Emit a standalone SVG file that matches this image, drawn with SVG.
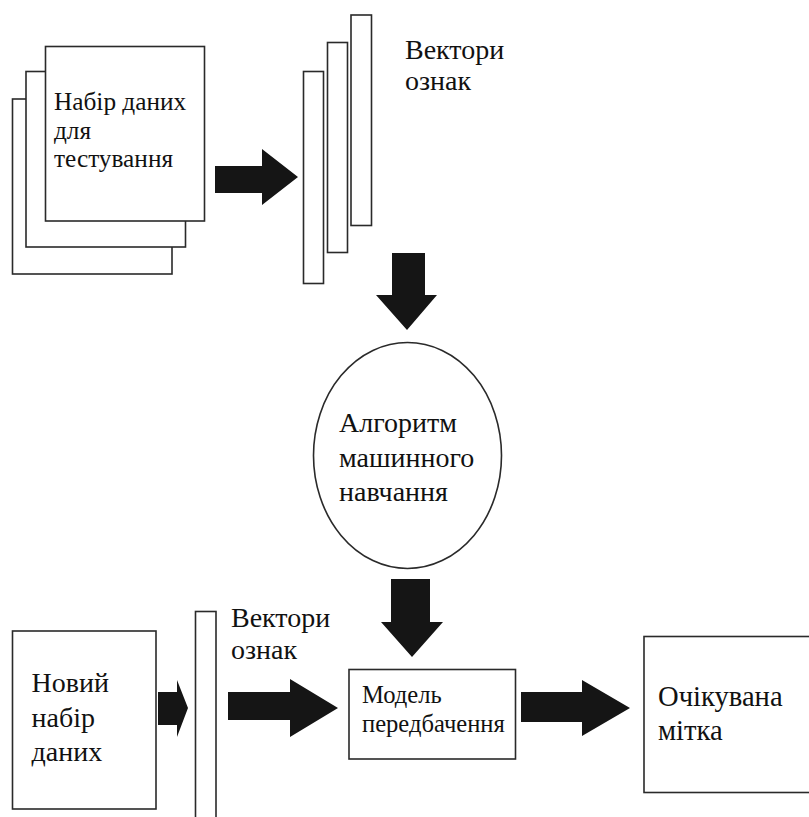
<svg xmlns="http://www.w3.org/2000/svg" width="809" height="817" viewBox="0 0 809 817">
<style>
.box{fill:#fff;stroke:#2a2a2a;stroke-width:1.6}
text{font-family:'Liberation Serif','Times New Roman','DejaVu Serif',serif;fill:#111}
.arr{fill:#151515}
</style>
<rect width="809" height="817" fill="#fff"/>
<g id="test-dataset">
<rect class="box" x="12.5" y="99" width="159.5" height="175"/>
<rect class="box" x="26" y="71.5" width="159.5" height="175.5"/>
<rect class="box" x="45.5" y="46.5" width="159" height="174.5"/>
<text font-size="25.3"><tspan x="54" y="110">Набір даних</tspan><tspan x="54" y="139">для</tspan><tspan x="54" y="167">тестування</tspan></text>
</g>
<g id="feature-vectors-1">
<rect class="box" x="303.5" y="71.5" width="20" height="212"/>
<rect class="box" x="327.5" y="42.5" width="20" height="210"/>
<rect class="box" x="351" y="15" width="20.5" height="210.5"/>
<text font-size="28"><tspan x="405" y="58.5">Вектори</tspan><tspan x="405" y="90">ознак</tspan></text>
</g>
<g id="ml-algorithm">
<ellipse class="box" cx="407.5" cy="455.5" rx="94" ry="113"/>
<text font-size="28"><tspan x="339" y="432">Алгоритм</tspan><tspan x="339" y="466.5">машинного</tspan><tspan x="339" y="500.5">навчання</tspan></text>
</g>
<g id="new-dataset">
<rect class="box" x="12.5" y="631" width="143.5" height="178"/>
<text font-size="28"><tspan x="31.5" y="691.5">Новий</tspan><tspan x="31.5" y="726.5">набір</tspan><tspan x="31.5" y="760.5">даних</tspan></text>
</g>
<g id="feature-vectors-2">
<rect class="box" x="195.5" y="611.5" width="20.5" height="215"/>
<text font-size="28"><tspan x="231" y="626.5">Вектори</tspan><tspan x="231" y="659">ознак</tspan></text>
</g>
<g id="prediction-model">
<rect class="box" x="349" y="669.5" width="166.5" height="89.5"/>
<text font-size="24.6"><tspan x="362" y="702.5">Модель</tspan><tspan x="362" y="731.5">передбачення</tspan></text>
</g>
<g id="expected-label">
<rect class="box" x="644" y="636.5" width="166" height="156"/>
<text font-size="28.6"><tspan x="658" y="706">Очікувана</tspan><tspan x="658" y="739.5">мітка</tspan></text>
</g>
<g id="connectors">
<polygon class="arr" points="215,166 262,166 262,149 298,177 262,205 262,193 215,193"/>
<polygon class="arr" points="392,253 425,253 425,295 437,295 407,330 376,295 392,295"/>
<polygon class="arr" points="391,579 430,579 430,622 443,622 412,657 381,622 391,622"/>
<polygon class="arr" points="158,692 177,692 177,680 188,708 177,737 177,725 158,725"/>
<polygon class="arr" points="228,692 290,692 290,679 338,708 290,737 290,720 228,720"/>
<polygon class="arr" points="521,692 582,692 582,680 630,708 582,736 582,722 521,722"/>
</g>
</svg>
